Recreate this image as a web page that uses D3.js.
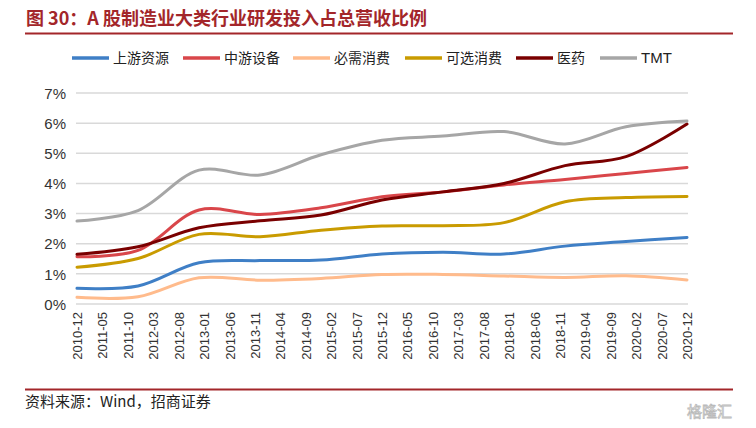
<!DOCTYPE html>
<html>
<head>
<meta charset="utf-8">
<script src="https://cdn.jsdelivr.net/npm/d3@7"></script>
<style>
  body { margin: 0; background: #fff; }
  text { font-family: "Liberation Sans", Arial, sans-serif; }
  .cjk { font-family: "Noto Sans CJK SC", sans-serif; }
</style>
</head>
<body>
<div id="chart"></div>
<script>
//************************************************************************
// data (yearly points, % of total revenue)
//************************************************************************
var dates = ["2010-12", "2011-12", "2012-12", "2013-12", "2014-12", "2015-12",
             "2016-12", "2017-12", "2018-12", "2019-12", "2020-12"];

var upstream   = [0.52, 0.60, 1.37, 1.44, 1.46, 1.66, 1.72, 1.66, 1.92, 2.07, 2.21];
var midstream  = [1.57, 1.78, 3.12, 2.97, 3.19, 3.56, 3.72, 3.95, 4.13, 4.33, 4.53];
var staples    = [0.22, 0.24, 0.87, 0.79, 0.85, 0.98, 0.98, 0.93, 0.88, 0.94, 0.80];
var optional   = [1.22, 1.51, 2.31, 2.23, 2.45, 2.59, 2.60, 2.70, 3.39, 3.53, 3.57];
var pharma     = [1.65, 1.90, 2.53, 2.76, 2.95, 3.45, 3.72, 4.00, 4.59, 4.89, 5.97];
var tmt        = [2.75, 3.10, 4.44, 4.28, 4.95, 5.43, 5.57, 5.72, 5.31, 5.88, 6.07];

var seriesNames = ["上游资源", "中游设备", "必需消费", "可选消费", "医药", "TMT"];

var tickLabels = ["2010-12", "2011-05", "2011-10", "2012-03", "2012-08", "2013-01",
  "2013-06", "2013-11", "2014-04", "2014-09", "2015-02", "2015-07", "2015-12",
  "2016-05", "2016-10", "2017-03", "2017-08", "2018-01", "2018-06", "2018-11",
  "2019-04", "2019-09", "2020-02", "2020-07", "2020-12"];

var yTicks = [0, 1, 2, 3, 4, 5, 6, 7];

//************************************************************************
// display settings
//************************************************************************
var svgWidth = 756;
var svgHeight = 428;
var colors = ["#3f7fc6", "#d9464a", "#ffbb8c", "#c99b00", "#7a0000", "#a6a6a6"];
var allSeries = [upstream, midstream, staples, optional, pharma, tmt];

// month index from "YYYY-MM", relative to 2010-12
function monthIdx(s) {
  var p = s.split("-");
  return (+p[0] - 2010) * 12 + (+p[1] - 12);
}

var svg = d3.select("#chart")
  .append("svg")
  .attr("width", svgWidth)
  .attr("height", svgHeight);

var x = d3.scaleLinear().domain([0, 120]).range([77, 687]);
var y = d3.scaleLinear().domain([0, 7]).range([304, 93]);

//************************************************************************
// title + rules
//************************************************************************
svg.append("text")
  .attr("class", "cjk")
  .attr("x", 26)
  .attr("y", 25)
  .attr("fill", "#a3262a")
  .attr("font-size", 18)
  .attr("font-weight", "bold")
  .text("图 30：A 股制造业大类行业研发投入占总营收比例");

svg.append("line")
  .attr("x1", 25).attr("x2", 733)
  .attr("y1", 33.5).attr("y2", 33.5)
  .attr("stroke", "#a3262a")
  .attr("stroke-width", 2);

svg.append("line")
  .attr("x1", 25).attr("x2", 733)
  .attr("y1", 389.5).attr("y2", 389.5)
  .attr("stroke", "#a3262a")
  .attr("stroke-width", 2);

svg.append("text")
  .attr("class", "cjk")
  .attr("x", 25)
  .attr("y", 407)
  .attr("font-size", 15)
  .attr("fill", "#222")
  .text("资料来源：Wind，招商证券");

svg.append("text")
  .attr("class", "cjk")
  .attr("x", 732)
  .attr("y", 417)
  .attr("text-anchor", "end")
  .attr("font-size", 15)
  .attr("fill", "none")
  .attr("stroke", "#bbb")
  .attr("stroke-width", 0.8)
  .text("格隆汇");

//************************************************************************
// gridlines + y axis
//************************************************************************
svg.append("g")
  .selectAll("line")
  .data(yTicks)
  .join("line")
  .attr("x1", 76).attr("x2", 688)
  .attr("y1", d => y(d)).attr("y2", d => y(d))
  .attr("stroke", "#d9d9d9")
  .attr("stroke-width", 1.5);

var yAxis = svg.append("g")
  .attr("transform", "translate(66,0)")
  .call(d3.axisLeft(y).tickValues(yTicks).tickSize(0).tickPadding(0)
    .tickFormat(d => d + "%"));
yAxis.select(".domain").remove();
yAxis.selectAll("text")
  .attr("font-family", "'Liberation Sans', Arial, sans-serif")
  .attr("font-size", 15)
  .attr("fill", "#333")
  .attr("dy", "0.35em");

//************************************************************************
// x axis labels (rotated)
//************************************************************************
svg.append("g")
  .selectAll("text")
  .data(tickLabels)
  .join("text")
  .attr("transform", d => `translate(${x(monthIdx(d)) + 5}, 312) rotate(-90)`)
  .attr("text-anchor", "end")
  .attr("font-size", 13)
  .attr("fill", "#333")
  .text(d => d);

//************************************************************************
// lines
//************************************************************************
var line = d3.line()
  .x((d, i) => x(monthIdx(dates[i])))
  .y(d => y(d))
  .curve(d3.curveCatmullRom.alpha(0.5));

svg.append("g")
  .selectAll("path")
  .data(allSeries)
  .join("path")
  .attr("d", d => line(d))
  .attr("fill", "none")
  .attr("stroke", (d, i) => colors[i])
  .attr("stroke-width", 3)
  .attr("stroke-linecap", "round");

//************************************************************************
// legend
//************************************************************************
var legendX = [72, 183, 293, 405, 516, 600];
var legend = svg.append("g");
seriesNames.forEach(function (name, i) {
  var g = legend.append("g").attr("transform", `translate(${legendX[i]}, 58)`);
  g.append("line")
    .attr("x1", 0).attr("x2", 37)
    .attr("y1", 0).attr("y2", 0)
    .attr("stroke", colors[i])
    .attr("stroke-width", 3.5);
  g.append("text")
    .attr("class", i === 5 ? null : "cjk")
    .attr("x", 41)
    .attr("y", 0)
    .attr("dy", "0.36em")
    .attr("font-size", i === 5 ? 15 : 14)
    .attr("fill", "#222")
    .text(name);
});
</script>
</body>
</html>
